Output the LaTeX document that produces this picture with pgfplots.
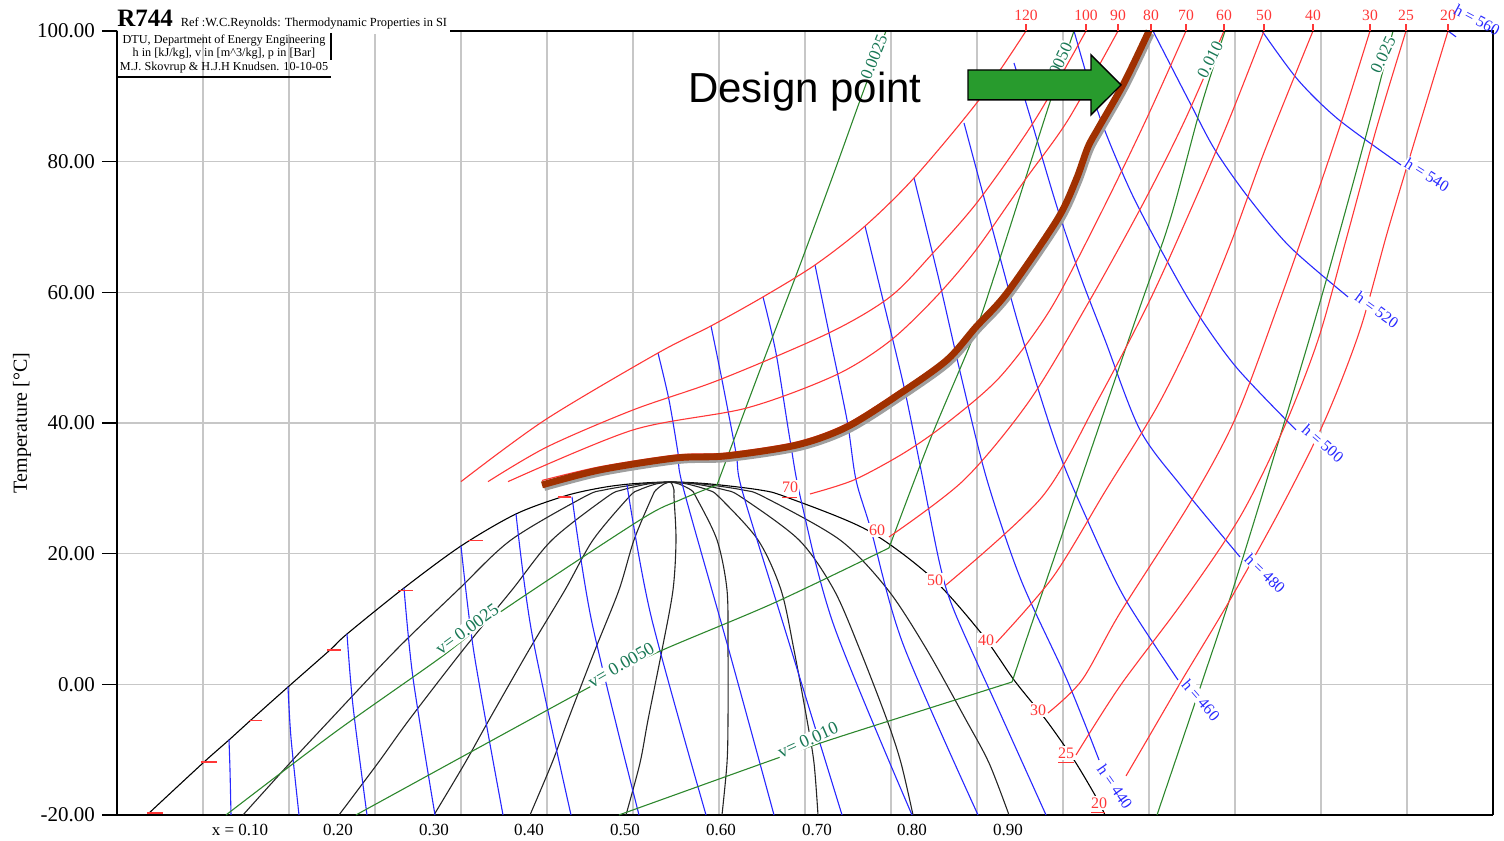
\documentclass[border=0pt]{standalone}
\usepackage{pgfplots}
\pgfplotsset{compat=1.18}
\usepackage{fontspec}
\setmainfont{Liberation Serif}
\newfontfamily\sansfont{Liberation Sans}
\definecolor{isored}{RGB}{255,55,55}
\definecolor{isoblue}{RGB}{40,40,255}
\definecolor{isogreen}{RGB}{45,135,45}
\definecolor{labgreen}{RGB}{25,120,85}
\definecolor{brownline}{RGB}{160,48,0}
\definecolor{arrowgreen}{RGB}{40,155,45}
\begin{document}
\begin{tikzpicture}
\begin{axis}[
  scale only axis, width=688pt, height=392pt,
  xmin=117, xmax=1493, ymin=-20, ymax=100,
  axis lines*=left,
  axis line style={black, line width=0.8pt},
  xtick={203,289,375,461,547,633,719,805,891,977,1063,1149,1235,1321,1407},
  xticklabels={},
  x tick style={draw=none},
  ytick={-20,0,20,40,60,80,100},
  yticklabels={-20.00,0.00,20.00,40.00,60.00,80.00,100.00},
  y tick style={black, line width=0.6pt},
  tick align=outside, major tick length=7.5pt,
  yticklabel style={font=\fontsize{10.5}{12}\selectfont},
  grid=major, grid style={black!22, line width=0.7pt},
  clip=false,
  every axis plot/.append style={line width=0.55pt},
]
% ---------- saturation dome ----------
\addplot[black, smooth] coordinates {(147,-20) (203,-12.04) (229,-8.52) (251,-5.46) (288,-0.41) (330,5.25) (347,7.70) (404,14.74) (461,21.17) (516,26.07) (565,28.83) (600,30.05) (630,30.66) (670,30.97) (710,30.66) (760,29.74) (786,28.67) (867,23.62) (931,16.43) (981,7.86) (1014,0.66) (1046,-5.46) (1074,-11.58) (1096,-17.24) (1105,-20)};
% ---------- quality lines ----------
\addplot[black!85, smooth] coordinates {(243,-20) (290,-12.04) (330,-5.46) (396,5.25) (458,14.44) (511,22.09) (584,28.67) (604,29.74) (641,30.66) (670,30.97)};
\addplot[black!85, smooth] coordinates {(339,-20) (378,-12.04) (409,-5.46) (463,5.25) (512,14.44) (552,22.09) (607,28.67) (622,29.74) (648,30.66) (670,30.97)};
\addplot[black!85, smooth] coordinates {(434,-20) (465,-12.04) (489,-5.46) (529,5.25) (565,14.44) (593,22.09) (629,28.67) (639,29.74) (656,30.66) (670,30.97)};
\addplot[black!85, smooth] coordinates {(530,-20) (552,-12.04) (568,-5.46) (595,5.25) (619,14.44) (634,22.09) (652,28.67) (656,29.74) (664,30.66) (670,30.97)};
\addplot[black!85, smooth] coordinates {(626,-20) (640,-12.04) (648,-5.46) (662,5.25) (673,14.44) (676,22.09) (674,28.67) (674,29.74) (672,30.66) (670,30.97)};
\addplot[black!85, smooth] coordinates {(722,-20) (727,-12.04) (728,-5.46) (728,5.25) (727,14.44) (717,22.09) (696,28.67) (691,29.74) (679,30.66) (670,30.97)};
\addplot[black!85, smooth] coordinates {(818,-20) (814,-12.04) (807,-5.46) (794,5.25) (781,14.44) (758,22.09) (719,28.67) (708,29.74) (687,30.66) (670,30.97)};
\addplot[black!85, smooth] coordinates {(913,-20) (901,-12.04) (887,-5.46) (860,5.25) (834,14.44) (799,22.09) (741,28.67) (725,29.74) (695,30.66) (670,30.97)};
\addplot[black!85, smooth] coordinates {(1009,-20) (989,-12.04) (966,-5.46) (927,5.25) (888,14.44) (840,22.09) (764,28.67) (743,29.74) (702,30.66) (670,30.97)};
% ---------- isenthalps (blue) ----------
\addplot[isoblue, smooth] coordinates {(229,-8.52) (230,-13.11) (231,-20)};
\addplot[isoblue, smooth] coordinates {(288,-0.41) (291,-8.21) (299,-20)};
\addplot[isoblue, smooth] coordinates {(347,7.70) (353,-3.32) (367,-20)};
\addplot[isoblue, smooth] coordinates {(404,14.74) (413,0.97) (435,-20)};
\addplot[isoblue, smooth] coordinates {(461,21.17) (474,4.80) (503,-20)};
\addplot[isoblue, smooth] coordinates {(516,26.07) (532,7.70) (571,-20)};
\addplot[isoblue, smooth] coordinates {(572,28.70) (592,9.39) (639,-20)};
\addplot[isoblue, smooth] coordinates {(627,30.50) (651,10.46) (706,-20)};
\addplot[isoblue, smooth] coordinates {(658,50.71) (669,43.52) (678,35.41) (683,30.20) (728,5.72) (774,-20)};
\addplot[isoblue, smooth] coordinates {(711,54.85) (722,46.58) (736,35.41) (742,29.74) (782,9.85) (842,-20)};
\addplot[isoblue, smooth] coordinates {(763,59.29) (776,50.71) (790,37.40) (801,28.21) (834,8.93) (912,-20)};
\addplot[isoblue, smooth] coordinates {(815,64.18) (829,53.78) (847,40.46) (856,31.28) (871,23.62) (903,6.17) (978,-20)};
\addplot[isoblue, smooth] coordinates {(865,70.15) (883,58.83) (904,45.51) (921,32.81) (940,18.27) (955,10.92) (1000,-4.39) (1046,-20)};
\addplot[isoblue, smooth] coordinates {(914,77.50) (939,61.89) (962,46.58) (987,31.28) (1021,15.97) (1067,0.66) (1099,-11.58)};
\addplot[isoblue, smooth] coordinates {(964,85.92) (990,71.07) (1020,54.24) (1057,36.33) (1086,25.61) (1124,13.37) (1178,0.66)};
\addplot[isoblue, smooth] coordinates {(1014,95.10) (1032,85.92) (1057,73.06) (1080,62.65) (1105,52.70) (1140,38.93) (1182,30.20) (1240,19.49)};
\addplot[isoblue, smooth] coordinates {(1074,100) (1099,87.14) (1130,75.66) (1161,66.48) (1194,57.60) (1236,48.57) (1296,38.93)};
\addplot[isoblue, smooth] coordinates {(1153,100) (1190,88.98) (1215,81.79) (1248,74.59) (1290,66.94) (1348,59.29)};
\addplot[isoblue, smooth] coordinates {(1262,100) (1298,92.50) (1339,86.38) (1401,79.49)};
\addplot[isoblue] coordinates {(1448,100) (1456,99.1)};
% ---------- isochores (green) ----------
\addplot[isogreen, smooth] coordinates {(226,-20) (334,-7.45) (440,4.03) (499,10.92) (640,25.15) (680,28.21) (717,30.51)};
\addplot[isogreen, smooth] coordinates {(717,30.51) (760,48.11) (800,64.18) (835,78.72) (862,90.20) (886,100)};
\addplot[isogreen, smooth] coordinates {(356,-20) (591,-0.31) (656,4.80) (774,12.45) (889,20.87)};
\addplot[isogreen, smooth] coordinates {(889,20.87) (930,37.40) (972,52.70) (993,61.89) (1050,89.13) (1074,100)};
\addplot[isogreen, smooth] coordinates {(619,-20) (778,-11.27) (839,-8.06) (1012,0.35)};
\addplot[isogreen, smooth] coordinates {(1012,0.35) (1049,17.04) (1132,54.24) (1170,71.07) (1200,87.91) (1225,100)};
\addplot[isogreen, smooth] coordinates {(1157,-20) (1202,0.35) (1240,17.96) (1312,54.24) (1364,82.86) (1393,100)};
% ---------- isobars (red) ----------
\addplot[isored, smooth] coordinates {(461,31.02) (545,40.46) (658,50.71) (711,54.85) (763,59.29) (815,64.18) (864,70.00) (914,77.50) (979,89.44) (1026,100)};
\addplot[isored, smooth] coordinates {(488,31.02) (547,36.33) (633,41.99) (719,46.58) (829,53.78) (890,59.29) (933,66.02) (979,74.13) (1035,86.38) (1086,100)};
\addplot[isored, smooth] coordinates {(508,31.02) (633,38.93) (747,42.30) (836,47.35) (890,52.55) (936,59.29) (976,66.48) (1025,77.19) (1068,86.38) (1118,100)};
\addplot[isored, smooth] coordinates {(542,31.2) (600,33.3) (676,35.1) (726,35.4) (797,37.1) (847,39.9) (901,45.1) (947,50.1) (976,55.2) (1007,60.4) (1057,71.5) (1076,77.6) (1088,82.6) (1099,85.7) (1124,92.4) (1151,100)};
\addplot[isored, smooth] coordinates {(810,29.13) (854,31.28) (904,35.41) (947,40.00) (1000,47.04) (1050,57.30) (1100,71.84) (1146,86.38) (1186,100)};
\addplot[isored, smooth] coordinates {(889,22.55) (964,31.28) (1030,43.52) (1090,58.83) (1145,74.13) (1185,86.38) (1224,100)};
\addplot[isored, smooth] coordinates {(946,15.20) (1042,28.67) (1098,43.52) (1150,58.83) (1195,74.13) (1229,86.38) (1264,100)};
\addplot[isored, smooth] coordinates {(996,6.33) (1053,16.43) (1106,29.74) (1157,42.45) (1195,54.24) (1232,68.01) (1265,81.79) (1313,100)};
\addplot[isored, smooth] coordinates {(1048,-4.39) (1082,0.66) (1120,10.92) (1190,27.76) (1236,40.92) (1280,58.83) (1315,74.13) (1342,86.38) (1370,100)};
\addplot[isored, smooth] coordinates {(1076,-10.82) (1120,-0.26) (1182,12.45) (1240,25.61) (1283,38.93) (1318,52.70) (1346,68.01) (1376,84.85) (1406,100)};
\addplot[isored, smooth] coordinates {(1126,-14.03) (1147,-8.52) (1182,0.66) (1230,12.91) (1280,26.68) (1325,40.46) (1360,54.24) (1388,69.54) (1418,84.85) (1448,100)};
% saturated-liquid pressure marks
\addplot[isored] coordinates {(147,-19.7) (163,-19.7)};
\addplot[isored] coordinates {(201,-11.9) (217,-11.9)};
\addplot[isored] coordinates {(249,-5.55) (262,-5.55)};
\addplot[isored] coordinates {(327,5.25) (341,5.25)};
\addplot[isored] coordinates {(398,14.3) (413,14.3)};
\addplot[isored] coordinates {(468,22.0) (483,22.0)};
\addplot[isored] coordinates {(558,28.67) (571,28.67)};
% ---------- design curve ----------
\addplot[gray!75, line width=3.4pt, smooth, xshift=1.1pt, yshift=-1.3pt] coordinates {(542,30.51) (600,32.81) (676,34.64) (726,34.95) (797,36.63) (847,39.39) (901,44.59) (947,49.64) (976,54.69) (1007,59.90) (1057,71.07) (1076,77.19) (1088,82.24) (1099,85.31) (1124,92.04) (1149,100)};
\addplot[brownline, line width=3.4pt, smooth] coordinates {(542,30.51) (600,32.81) (676,34.64) (726,34.95) (797,36.63) (847,39.39) (901,44.59) (947,49.64) (976,54.69) (1007,59.90) (1057,71.07) (1076,77.19) (1088,82.24) (1099,85.31) (1124,92.04) (1149,100)};

% ---------- frame pieces ----------
\fill[white] (axis cs:118,99.6) rectangle (axis cs:450,100.5);
\draw[black, line width=0.8pt] (axis cs:450,100) -- (axis cs:1493,100) -- (axis cs:1493,-20);
\draw[black, line width=0.6pt] (axis cs:331,99.69) -- (axis cs:331,95.56);
\draw[black, line width=0.6pt] (axis cs:117,92.96) -- (axis cs:331,92.96);
\node[anchor=base west, inner sep=0pt] at (axis cs:117,100.61) {{\fontsize{12.5}{12.5}\selectfont\bfseries R744}\hspace{4pt}{\fontsize{6.2}{7}\selectfont Ref :W.C.Reynolds: Thermodynamic Properties in SI}};
\node[inner sep=0pt, font=\fontsize{6.1}{6.4}\selectfont] at (axis cs:224,98.47) {DTU, Department of Energy Engineering};
\node[inner sep=0pt, font=\fontsize{6.1}{6.4}\selectfont] at (axis cs:224,96.48) {h in [kJ/kg], v in [m\textasciicircum 3/kg], p in [Bar]};
\node[inner sep=0pt, font=\fontsize{6.1}{6.4}\selectfont] at (axis cs:224,94.34) {M.J. Skovrup \& H.J.H Knudsen. 10-10-05};
\node[rotate=90, font=\fontsize{10}{12}\selectfont] at (axis cs:22,40) {Temperature [°C]};

% red top ticks and labels
\draw[isored, line width=0.55pt] (axis cs:1026,100) -- (axis cs:1026,101.1);
\draw[isored, line width=0.55pt] (axis cs:1086,100) -- (axis cs:1086,101.1);
\draw[isored, line width=0.55pt] (axis cs:1118,100) -- (axis cs:1118,101.1);
\draw[isored, line width=0.55pt] (axis cs:1151,100) -- (axis cs:1151,101.1);
\draw[isored, line width=0.55pt] (axis cs:1186,100) -- (axis cs:1186,101.1);
\draw[isored, line width=0.55pt] (axis cs:1224,100) -- (axis cs:1224,101.1);
\draw[isored, line width=0.55pt] (axis cs:1264,100) -- (axis cs:1264,101.1);
\draw[isored, line width=0.55pt] (axis cs:1313,100) -- (axis cs:1313,101.1);
\draw[isored, line width=0.55pt] (axis cs:1370,100) -- (axis cs:1370,101.1);
\draw[isored, line width=0.55pt] (axis cs:1406,100) -- (axis cs:1406,101.1);
\draw[isored, line width=0.55pt] (axis cs:1448,100) -- (axis cs:1448,101.1);
\node[text=isored, inner sep=0pt, font=\fontsize{7.8}{8}\selectfont] at (axis cs:1026,102.4) {120};
\node[text=isored, inner sep=0pt, font=\fontsize{7.8}{8}\selectfont] at (axis cs:1086,102.4) {100};
\node[text=isored, inner sep=0pt, font=\fontsize{7.8}{8}\selectfont] at (axis cs:1118,102.4) {90};
\node[text=isored, inner sep=0pt, font=\fontsize{7.8}{8}\selectfont] at (axis cs:1151,102.4) {80};
\node[text=isored, inner sep=0pt, font=\fontsize{7.8}{8}\selectfont] at (axis cs:1186,102.4) {70};
\node[text=isored, inner sep=0pt, font=\fontsize{7.8}{8}\selectfont] at (axis cs:1224,102.4) {60};
\node[text=isored, inner sep=0pt, font=\fontsize{7.8}{8}\selectfont] at (axis cs:1264,102.4) {50};
\node[text=isored, inner sep=0pt, font=\fontsize{7.8}{8}\selectfont] at (axis cs:1313,102.4) {40};
\node[text=isored, inner sep=0pt, font=\fontsize{7.8}{8}\selectfont] at (axis cs:1370,102.4) {30};
\node[text=isored, inner sep=0pt, font=\fontsize{7.8}{8}\selectfont] at (axis cs:1406,102.4) {25};
\node[text=isored, inner sep=0pt, font=\fontsize{7.8}{8}\selectfont] at (axis cs:1448,102.4) {20};
% red isobar labels on the dome
\node[text=isored, fill=white, inner sep=0.6pt, font=\fontsize{8}{9}\selectfont] at (axis cs:790,30.2) {70};
\node[text=isored, fill=white, inner sep=0.6pt, font=\fontsize{8}{9}\selectfont] at (axis cs:877,23.62) {60};
\node[text=isored, fill=white, inner sep=0.6pt, font=\fontsize{8}{9}\selectfont] at (axis cs:935,15.97) {50};
\node[text=isored, fill=white, inner sep=0.6pt, font=\fontsize{8}{9}\selectfont] at (axis cs:986,6.79) {40};
\node[text=isored, fill=white, inner sep=0.6pt, font=\fontsize{8}{9}\selectfont] at (axis cs:1038,-3.93) {30};
\node[text=isored, fill=white, inner sep=0.6pt, font=\fontsize{8}{9}\selectfont] at (axis cs:1066,-10.51) {25};
\node[text=isored, fill=white, inner sep=0.6pt, font=\fontsize{8}{9}\selectfont] at (axis cs:1099,-18.16) {20};
\draw[isored, line width=0.55pt] (axis cs:782,28.6) -- (axis cs:797,28.6);
\draw[isored, line width=0.55pt] (axis cs:1058,-12.0) -- (axis cs:1074,-12.0);
\draw[isored, line width=0.55pt] (axis cs:1091,-19.6) -- (axis cs:1105,-19.6);
% blue enthalpy labels
\node[text=isoblue, fill=white, inner sep=0.4pt, rotate=-55, font=\fontsize{8}{9}\selectfont] at (axis cs:1115,-15.71) {h = 440};
\node[text=isoblue, fill=white, inner sep=0.4pt, rotate=-49, font=\fontsize{8}{9}\selectfont] at (axis cs:1201,-2.4) {h = 460};
\node[text=isoblue, fill=white, inner sep=0.4pt, rotate=-44, font=\fontsize{8}{9}\selectfont] at (axis cs:1265,17.0) {h = 480};
\node[text=isoblue, fill=white, inner sep=0.4pt, rotate=-41, font=\fontsize{8}{9}\selectfont] at (axis cs:1323,36.9) {h = 500};
\node[text=isoblue, fill=white, inner sep=0.4pt, rotate=-36, font=\fontsize{8}{9}\selectfont] at (axis cs:1377,57.3) {h = 520};
\node[text=isoblue, fill=white, inner sep=0.4pt, rotate=-32, font=\fontsize{8}{9}\selectfont] at (axis cs:1427,78.0) {h = 540};
\node[text=isoblue, inner sep=0.4pt, rotate=-28, font=\fontsize{8}{9}\selectfont] at (axis cs:1477,101.7) {h = 560};
% green volume labels
\node[text=labgreen, fill=white, inner sep=0.4pt, rotate=36, font=\fontsize{9}{10}\selectfont] at (axis cs:467,8.47) {v= 0.0025};
\node[text=labgreen, fill=white, inner sep=0.4pt, rotate=30, font=\fontsize{9}{10}\selectfont] at (axis cs:621,2.96) {v= 0.0050};
\node[text=labgreen, fill=white, inner sep=0.4pt, rotate=24, font=\fontsize{9}{10}\selectfont] at (axis cs:808,-8.52) {v= 0.010};
\node[text=labgreen, fill=white, inner sep=0.4pt, rotate=68, font=\fontsize{8.5}{9}\selectfont] at (axis cs:874,96.0) {0.0025};
\node[text=labgreen, fill=white, inner sep=0.4pt, rotate=65, font=\fontsize{8.5}{9}\selectfont] at (axis cs:1058,94.8) {0.0050};
\node[text=labgreen, fill=white, inner sep=0.4pt, rotate=63, font=\fontsize{8.5}{9}\selectfont] at (axis cs:1210,95.6) {0.010};
\node[text=labgreen, fill=white, inner sep=0.4pt, rotate=65, font=\fontsize{8.5}{9}\selectfont] at (axis cs:1383,96.3) {0.025};
% quality labels
\node[inner sep=0pt, font=\fontsize{8.5}{9}\selectfont] at (axis cs:240,-22.3) {x = 0.10};
\node[inner sep=0pt, font=\fontsize{8.5}{9}\selectfont] at (axis cs:338,-22.3) {0.20};
\node[inner sep=0pt, font=\fontsize{8.5}{9}\selectfont] at (axis cs:434,-22.3) {0.30};
\node[inner sep=0pt, font=\fontsize{8.5}{9}\selectfont] at (axis cs:529,-22.3) {0.40};
\node[inner sep=0pt, font=\fontsize{8.5}{9}\selectfont] at (axis cs:625,-22.3) {0.50};
\node[inner sep=0pt, font=\fontsize{8.5}{9}\selectfont] at (axis cs:721,-22.3) {0.60};
\node[inner sep=0pt, font=\fontsize{8.5}{9}\selectfont] at (axis cs:817,-22.3) {0.70};
\node[inner sep=0pt, font=\fontsize{8.5}{9}\selectfont] at (axis cs:912,-22.3) {0.80};
\node[inner sep=0pt, font=\fontsize{8.5}{9}\selectfont] at (axis cs:1008,-22.3) {0.90};
% design point annotation
\filldraw[fill=arrowgreen, draw=black, line width=0.7pt] (axis cs:968,94.03) -- (axis cs:1091,94.03) -- (axis cs:1091,96.33) -- (axis cs:1121,91.73) -- (axis cs:1091,87.14) -- (axis cs:1091,89.44) -- (axis cs:968,89.44) -- cycle;
\node[inner sep=0pt, font=\sansfont\fontsize{21}{25}\selectfont] at (axis cs:805,90.66) {Design point};
\coordinate (BBsw) at (axis cs:0,-23.98);
\coordinate (BBne) at (axis cs:1504,104.74);
\end{axis}
\pgfresetboundingbox
\useasboundingbox (BBsw) rectangle (BBne);
\end{tikzpicture}
\end{document}
